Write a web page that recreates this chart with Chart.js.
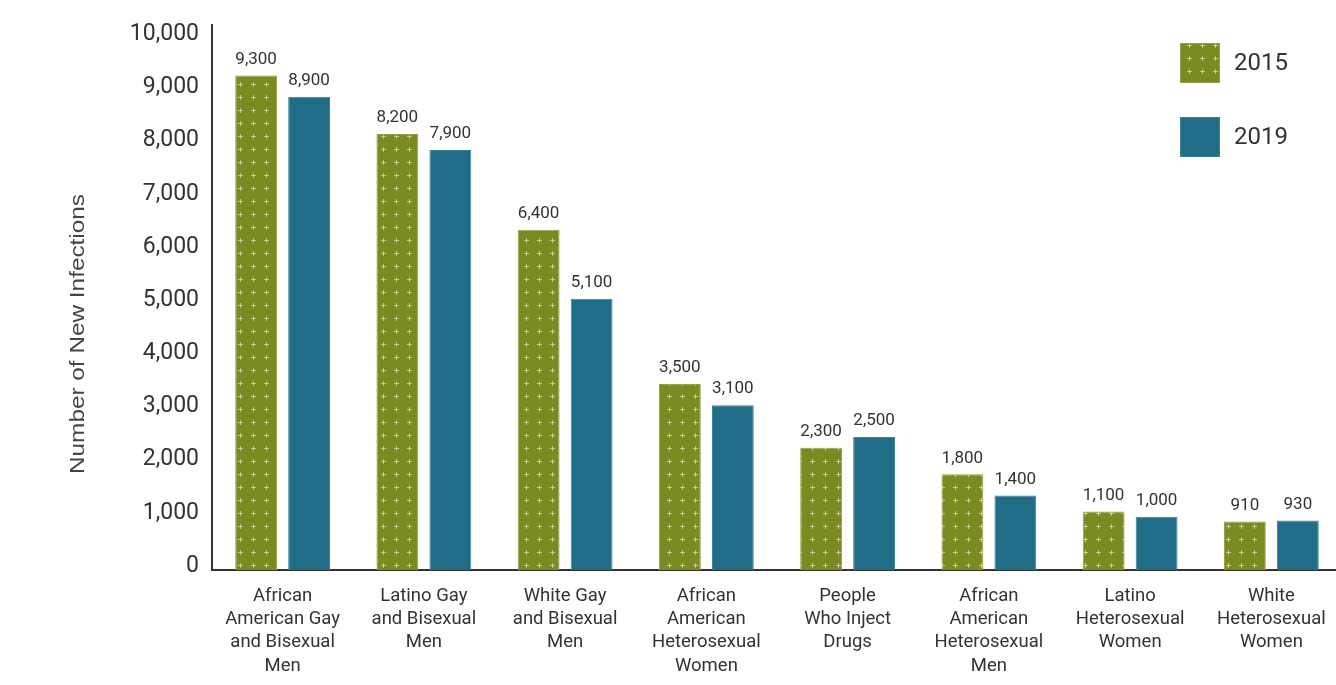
<!DOCTYPE html>
<html>
<head>
<meta charset="utf-8">
<script src="https://cdn.jsdelivr.net/npm/chart.js@4.4.1/dist/chart.umd.min.js"></script>
<style>
  html, body { margin: 0; padding: 0; background: #fff; overflow: hidden; }
  #wrap { position: relative; width: 1342px; height: 685px; }
</style>
</head>
<body>
<div id="wrap"><canvas id="myChart"></canvas></div>
<script>
// data
const categories = [
    ["African", "American Gay", "and Bisexual", "Men"],
    ["Latino Gay", "and Bisexual", "Men"],
    ["White Gay", "and Bisexual", "Men"],
    ["African", "American", "Heterosexual", "Women"],
    ["People", "Who Inject", "Drugs"],
    ["African", "American", "Heterosexual", "Men"],
    ["Latino", "Heterosexual", "Women"],
    ["White", "Heterosexual", "Women"]
];
const seriesNames = ["2015", "2019"];
const values2015 = [9300, 8200, 6400, 3500, 2300, 1800, 1100, 910];
const values2019 = [8900, 7900, 5100, 3100, 2500, 1400, 1000, 930];
const yTicks = [0, 1000, 2000, 3000, 4000, 5000, 6000, 7000, 8000, 9000, 10000];

const green = '#798c22';
const blue = '#206d88';
const textColor = '#333333';

const makePattern = (bg) => {
    const c = document.createElement('canvas');
    c.width = 13; c.height = 13;
    const x = c.getContext('2d');
    x.fillStyle = bg;
    x.fillRect(0, 0, 13, 13);
    x.strokeStyle = 'rgba(235,245,200,0.6)';
    x.lineWidth = 1;
    x.beginPath();
    x.moveTo(4, 6.5); x.lineTo(9, 6.5);
    x.moveTo(6.5, 4); x.lineTo(6.5, 9);
    x.stroke();
    return x.createPattern(c, 'repeat');
};
const greenPattern = makePattern(green);

const numberWithCommas = (n) => n.toString().replace(/\B(?=(\d{3})+(?!\d))/g, ",");

// value labels above bars, axis title, legend
const extras = {
    id: 'extras',
    afterDatasetsDraw(chart) {
        const ctx = chart.ctx;
        ctx.save();
        ctx.fillStyle = textColor;
        ctx.font = '17px Roboto';
        ctx.textAlign = 'center';
        ctx.textBaseline = 'middle';
        chart.data.datasets.forEach((ds, i) => {
            chart.getDatasetMeta(i).data.forEach((el, j) => {
                ctx.fillText(numberWithCommas(ds.data[j]), el.x, el.y - 16);
            });
        });

        // y axis title
        ctx.save();
        ctx.font = '21px "Liberation Sans"';
        ctx.fillStyle = '#444';
        const w = ctx.measureText('Number of New Infections').width;
        ctx.translate(78, 334);
        ctx.rotate(-Math.PI / 2);
        ctx.scale(280 / w, 1);
        ctx.fillText('Number of New Infections', 0, 0);
        ctx.restore();

        // legend
        const fills = [greenPattern, blue];
        const borders = ['#93a444', '#3d8098'];
        ctx.textAlign = 'left';
        ctx.font = '24px Roboto';
        seriesNames.forEach((name, i) => {
            const top = 43 + i * 74;
            ctx.fillStyle = fills[i];
            ctx.fillRect(1180, top, 40, 40);
            ctx.strokeStyle = borders[i];
            ctx.lineWidth = 1;
            ctx.strokeRect(1180.5, top + 0.5, 39, 39);
            ctx.fillStyle = textColor;
            ctx.fillText(name, 1234, top + 21);
        });
        ctx.restore();
    }
};

const data = {
    labels: categories,
    datasets: [{
        label: seriesNames[0],
        data: values2015,
        backgroundColor: greenPattern,
        borderColor: '#93a444',
        borderWidth: 1
    }, {
        label: seriesNames[1],
        data: values2019,
        backgroundColor: blue,
        borderColor: '#3d8098',
        borderWidth: 1
    }]
};

new Chart(document.getElementById('myChart'), {
    type: 'bar',
    data: data,
    plugins: [extras],
    options: {
        responsive: true,
        maintainAspectRatio: false,
        animation: false,
        categoryPercentage: 0.75,
        barPercentage: 0.79,
        layout: { padding: { top: 14, left: 0, right: 0, bottom: 0 } },
        plugins: {
            legend: { display: false },
            tooltip: { enabled: false }
        },
        scales: {
            x: {
                grid: { display: false, drawTicks: false },
                border: { color: '#333', width: 2 },
                ticks: {
                    color: textColor,
                    padding: 15,
                    maxRotation: 0,
                    autoSkip: false,
                    font: { family: 'Roboto', size: 18.5, lineHeight: 1.25 }
                },
                afterFit(scale) { scale.height = 115; }
            },
            y: {
                min: 0,
                max: 10260,
                grid: { display: false, drawTicks: false },
                border: { color: '#333', width: 2 },
                afterBuildTicks(scale) {
                    scale.ticks = yTicks.map(v => ({ value: v }));
                },
                ticks: {
                    color: textColor,
                    padding: 13,
                    labelOffset: -4,
                    font: { family: 'Roboto', size: 23, lineHeight: 1 },
                    callback: (v) => numberWithCommas(v)
                },
                afterFit(scale) { scale.width = 212; }
            }
        }
    }
});
</script>
</body>
</html>
